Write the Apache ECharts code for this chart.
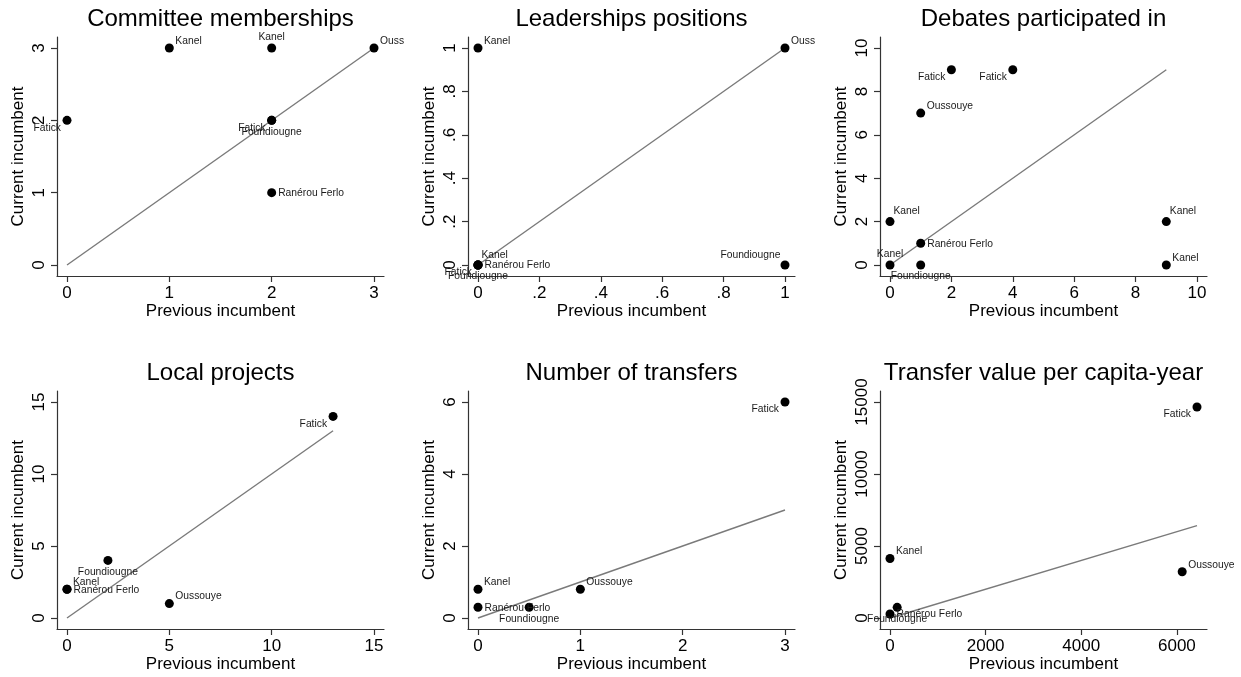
<!DOCTYPE html>
<html><head><meta charset="utf-8">
<script src="https://cdn.jsdelivr.net/npm/echarts@6/dist/echarts.min.js"></script>
<style>html,body{margin:0;padding:0;background:#fff}#c{width:1241px;height:677px}</style>
</head><body><div id="c"></div>
<script>
// ---------- data ----------
const titles = ['Committee memberships','Leaderships positions','Debates participated in','Local projects','Number of transfers','Transfer value per capita-year'];
const xName = 'Previous incumbent';
const yName = 'Current incumbent';

const p1Names = ['Kanel','Kanel','Oussouye','Fatick','Fatick','Foundiougne','Ranérou Ferlo'];
const p1X = [1,2,3,0,2,2,2];
const p1Y = [3,3,3,2,2,2,1];
const p1XTicks = [0,1,2,3];
const p1YTicks = [0,1,2,3];

const p2Names = ['Kanel','Oussouye','Kanel','Ranérou Ferlo','Fatick','Foundiougne','Foundiougne'];
const p2X = [0,1,0,0,0,0,1];
const p2Y = [1,1,0,0,0,0,0];
const p2XTicks = [0,0.2,0.4,0.6,0.8,1];
const p2YTicks = [0,0.2,0.4,0.6,0.8,1];

const p3Names = ['Fatick','Fatick','Oussouye','Kanel','Kanel','Ranérou Ferlo','Kanel','Foundiougne','Kanel'];
const p3X = [2,4,1,0,9,1,0,1,9];
const p3Y = [9,9,7,2,2,1,0,0,0];
const p3XTicks = [0,2,4,6,8,10];
const p3YTicks = [0,2,4,6,8,10];

const p4Names = ['Fatick','Foundiougne','Kanel','Ranérou Ferlo','Oussouye'];
const p4X = [13,2,0,0,5];
const p4Y = [14,4,2,2,1];
const p4XTicks = [0,5,10,15];
const p4YTicks = [0,5,10,15];

const p5Names = ['Fatick','Kanel','Oussouye','Ranérou Ferlo','Foundiougne'];
const p5X = [3,0,1,0,0.5];
const p5Y = [6,0.8,0.8,0.3,0.3];
const p5XTicks = [0,1,2,3];
const p5YTicks = [0,2,4,6];

const p6Names = ['Fatick','Kanel','Oussouye','Ranérou Ferlo','Foundiougne'];
const p6X = [6420,0,6110,0,150];
const p6Y = [14650,4130,3210,280,740];
const p6XTicks = [0,2000,4000,6000];
const p6YTicks = [0,5000,10000,15000];

// label clock positions (style, like Stata mlabvposition)
const p1Clock = [2,12,2,8,8,6,3];
const p2Clock = [2,2,1,3,8,6,11];
const p3Clock = [8,8,2,1,1,3,12,6,2];
const p4Clock = [8,6,2,3,2];
const p5Clock = [8,2,2,3,6];
const p6Clock = [8,2,2,3,6];

// ---------- layout / style ----------
const FONT = '"Liberation Sans", Arial, Helvetica, sans-serif';
const panels = [
  {names:p1Names,x:p1X,y:p1Y,xt:p1XTicks,yt:p1YTicks,clock:p1Clock},
  {names:p2Names,x:p2X,y:p2Y,xt:p2XTicks,yt:p2YTicks,clock:p2Clock},
  {names:p3Names,x:p3X,y:p3Y,xt:p3XTicks,yt:p3YTicks,clock:p3Clock},
  {names:p4Names,x:p4X,y:p4Y,xt:p4XTicks,yt:p4YTicks,clock:p4Clock},
  {names:p5Names,x:p5X,y:p5Y,xt:p5XTicks,yt:p5YTicks,clock:p5Clock},
  {names:p6Names,x:p6X,y:p6Y,xt:p6XTicks,yt:p6YTicks,clock:p6Clock}
];
const colLeft = [57, 468, 880];
const rowTop = [37, 391];
const rowH = [239, 238];
const GW = 327;
const PADX = 10, PADY = 11;
const titleTop = [7, 361];

const clockStyle = {
  12:{align:'center',verticalAlign:'middle',offset:[0,-10.5]},
  1:{align:'left',verticalAlign:'middle',offset:[3.5,-10]},
  2:{align:'left',verticalAlign:'middle',offset:[6,-7]},
  3:{align:'left',verticalAlign:'middle',offset:[6.5,0.5]},
  6:{align:'center',verticalAlign:'middle',offset:[0,11.5]},
  8:{align:'right',verticalAlign:'middle',offset:[-6,7.5]},
  11:{align:'right',verticalAlign:'middle',offset:[-4.5,-9.5]},
  9:{align:'right',verticalAlign:'middle',offset:[-6.5,0]}
};

function fmt(v){
  if (Math.abs(v) < 1 && v !== 0) return String(+v.toFixed(4)).replace(/^0/,'').replace(/^-0/,'-');
  return String(v);
}

const grid=[], xAxis=[], yAxis=[], series=[], title=[];
panels.forEach((p,i)=>{
  const col=i%3, row=Math.floor(i/3);
  const L=colLeft[col], T=rowTop[row], H=rowH[row];
  grid.push({left:L, top:T, width:GW, height:H, containLabel:false});
  const xlo=Math.min(...p.xt,...p.x), xhi=Math.max(...p.xt,...p.x);
  const ylo=Math.min(...p.yt,...p.y), yhi=Math.max(...p.yt,...p.y);
  const ux=(xhi-xlo)/(GW-2*PADX), uy=(yhi-ylo)/(H-2*PADY);
  const axisCommon = {
    type:'value', gridIndex:i,
    axisLine:{show:true,onZero:false,lineStyle:{color:'#333',width:1.2}},
    splitLine:{show:false},
    nameLocation:'middle',
    nameTextStyle:{fontSize:17,color:'#000',fontFamily:FONT}
  };
  xAxis.push(Object.assign({}, axisCommon, {
    min:xlo-PADX*ux, max:xhi+PADX*ux,
    name:xName, nameGap:26,
    axisTick:{show:true,length:6,customValues:p.xt,lineStyle:{color:'#333',width:1.2}},
    axisLabel:{customValues:p.xt,formatter:fmt,fontSize:17,color:'#000',fontFamily:FONT,margin:9}
  }));
  yAxis.push(Object.assign({}, axisCommon, {
    min:ylo-PADY*uy, max:yhi+PADY*uy,
    name:yName, nameGap:30,
    axisTick:{show:true,length:6,customValues:p.yt,lineStyle:{color:'#333',width:1.2}},
    axisLabel:{customValues:p.yt,formatter:fmt,fontSize:17,color:'#000',fontFamily:FONT,margin:9,rotate:90}
  }));
  title.push({text:titles[i], left:L+GW/2, top:titleTop[row], textAlign:'center', padding:0,
    textStyle:{fontSize:24,fontWeight:'normal',color:'#000',fontFamily:FONT}});
  const dmin=Math.min(...p.x), dmax=Math.max(...p.x);
  series.push({type:'line', xAxisIndex:i, yAxisIndex:i, data:[[dmin,dmin],[dmax,dmax]],
    symbol:'none', silent:true, lineStyle:{color:'#7a7a7a',width:1.4}, z:1, animation:false});
  const data = p.x.map((xv,k)=>{
    const cs = clockStyle[p.clock[k]];
    const lab = {position:['50%','50%'], align:cs.align, verticalAlign:cs.verticalAlign, offset:cs.offset};
    if (xv===xhi && [1,2,3].includes(p.clock[k])) { lab.width=27; lab.overflow='truncate'; lab.ellipsis=''; }
    return {name:p.names[k], value:[xv,p.y[k]], label:lab};
  });
  series.push({type:'scatter', xAxisIndex:i, yAxisIndex:i, data, symbol:'circle', symbolSize:9,
    itemStyle:{color:'#000',opacity:1}, z:3, animation:false,
    label:{show:true, formatter:d=>d.name, fontSize:10.3, color:'#1a1a1a', fontFamily:FONT}});
});

const chart = echarts.init(document.getElementById('c'), null, {renderer:'canvas'});
chart.setOption({backgroundColor:'#fff', animation:false, title, grid, xAxis, yAxis, series});
</script></body></html>
